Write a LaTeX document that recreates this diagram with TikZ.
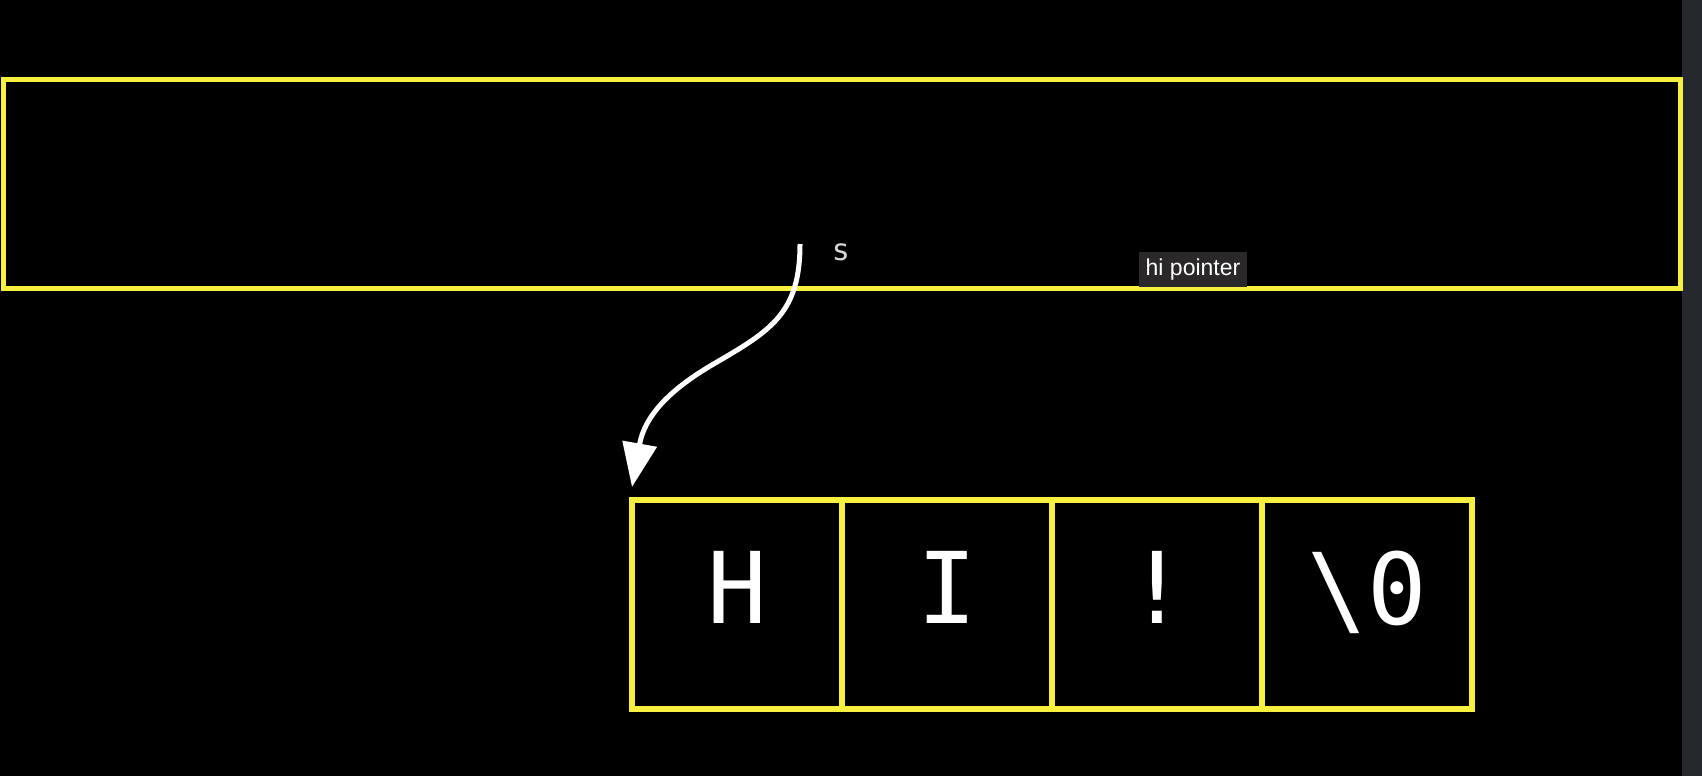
\documentclass[tikz,border=0pt]{standalone}
\usepackage{fontspec}
\setmainfont{Liberation Sans}
\newfontfamily\monofont{DejaVu Sans Mono}
\usetikzlibrary{arrows.meta}
\definecolor{ylw}{RGB}{248,240,62}
\definecolor{strip}{RGB}{37,40,44}
\definecolor{tagbg}{RGB}{42,40,40}
\definecolor{lbl}{RGB}{215,215,215}
\tikzset{
  frame/.style={draw=ylw, line width=5pt, minimum width=1677pt, minimum height=209pt, inner sep=0pt},
  cell/.style={draw=ylw, line width=6pt, minimum width=210pt, minimum height=209pt, inner sep=0pt},
  glyph/.style={text=white, font=\monofont\fontsize{99}{99}\selectfont, inner sep=0pt},
  ptr/.style={draw=white, line width=5pt, -{Triangle[width=34pt,length=44pt]}},
  tag/.style={fill=tagbg, text=white, font=\fontsize{23}{23}\selectfont, inner xsep=7pt, inner ysep=6.5pt, text height=17pt, text depth=5pt},
  varname/.style={text=lbl, font=\monofont\fontsize{30}{30}\selectfont, inner sep=0pt}
}
\begin{document}
\begin{tikzpicture}[x=1pt,y=-1pt]
  \fill[black] (0,0) rectangle (1702,776);
  \useasboundingbox (0,0) rectangle (1702,776);
  \fill[strip] (1682,0) rectangle (1702,776);
  \node[frame] (mem) at (841.5,183.5) {};
  \node[cell] (c1) at (737,604.5) {};
  \node[cell] (c2) at (947,604.5) {};
  \node[cell] (c3) at (1157,604.5) {};
  \node[cell] (c4) at (1367,604.5) {};
  \node[glyph, yshift=17pt] (t1) at (c1.center) {H};
  \node[glyph, yshift=17pt] (t2) at (c2.center) {I};
  \node[glyph, yshift=17pt] (t3) at (c3.center) {!};
  \node[glyph, yshift=12pt] (t4) at (c4.center) {\textbackslash0};
  \node[varname] (s) at (841,252) {s};
  \node[tag] (hp) at (1193,269.5) {hi pointer};
  \coordinate (start) at (800,244);
  \coordinate (tip) at (632,487);
  \draw[ptr] (start) .. controls (800,312) and (772,330) .. (717,362)
                     .. controls (684,381) and (646,408) .. (tip);
\end{tikzpicture}
\end{document}
